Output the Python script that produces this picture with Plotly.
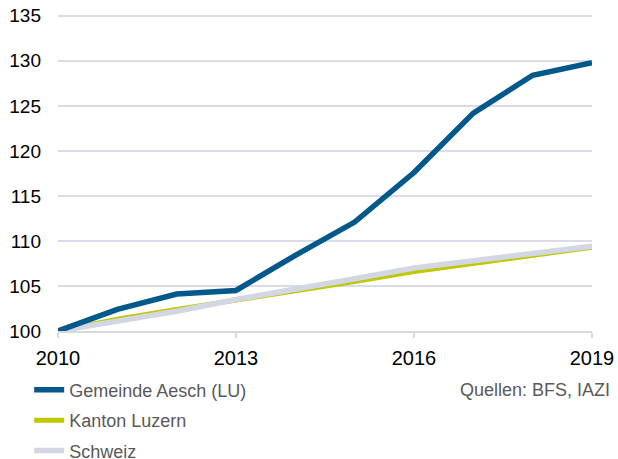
import plotly.graph_objects as go

years = [2010, 2011, 2012, 2013, 2014, 2015, 2016, 2017, 2018, 2019]
aesch = [100.0, 102.4, 104.1, 104.5, 108.4, 112.1, 117.6, 124.2, 128.4, 129.8]
luzern = [100.0, 101.3, 102.4, 103.4, 104.4, 105.5, 106.6, 107.5, 108.3, 109.3]
schweiz = [100.0, 101.1, 102.2, 103.5, 104.6, 105.8, 107.0, 107.8, 108.6, 109.4]
xticks = [2010, 2013, 2016, 2019]
yticks = [100, 105, 110, 115, 120, 125, 130, 135]
names = ["Gemeinde Aesch (LU)", "Kanton Luzern", "Schweiz"]
colors = ["#00598a", "#bfc800", "#d3d6e3"]
source = "Quellen: BFS, IAZI"

fig = go.Figure()
fig.add_trace(go.Scatter(x=years, y=luzern, name=names[1], mode="lines",
                         line=dict(color=colors[1], width=5), legendrank=2, legendgroup="b"))
fig.add_trace(go.Scatter(x=years, y=schweiz, name=names[2], mode="lines",
                         line=dict(color=colors[2], width=5.5), legendrank=3, legendgroup="c"))
fig.add_trace(go.Scatter(x=years, y=aesch, name=names[0], mode="lines",
                         line=dict(color=colors[0], width=5.5), legendrank=1, legendgroup="a"))

fig.update_layout(
    width=618, height=459,
    margin=dict(l=58, r=26, t=14, b=128, autoexpand=False),
    paper_bgcolor="white", plot_bgcolor="white",
    font=dict(family="Liberation Sans, Arial, sans-serif", color="#000000"),
    showlegend=True,
    legend=dict(orientation="v", x=-0.054, xanchor="left", y=-0.128, yanchor="top",
                font=dict(size=18, color="#595959"), tracegroupgap=4,
                bgcolor="rgba(0,0,0,0)"),
    xaxis=dict(range=[2010, 2019], tickvals=xticks, ticktext=[str(v) for v in xticks],
               showgrid=False, showline=True, linecolor="#d9d9d9", linewidth=1.5,
               ticks="outside", ticklen=5, tickcolor="#d9d9d9", tickwidth=1.5,
               ticklabelstandoff=3,
               tickfont=dict(size=20, color="#000000"), zeroline=False, fixedrange=True,
               automargin=False),
    yaxis=dict(range=[100, 135.2], tickvals=yticks, showgrid=True, gridcolor="#d9dbe8",
               gridwidth=1.5, showline=False, ticks="", ticklabelstandoff=16,
               tickfont=dict(size=19, color="#000000"), zeroline=False, fixedrange=True,
               automargin=False),
)
fig.add_annotation(text=source, xref="paper", yref="paper", x=1.037, y=-0.147,
                   xanchor="right", yanchor="top", showarrow=False,
                   font=dict(size=18, color="#595959"))
fig.write_html("out.html", config={"displayModeBar": False},
               post_script="document.body.style.margin='0';")
